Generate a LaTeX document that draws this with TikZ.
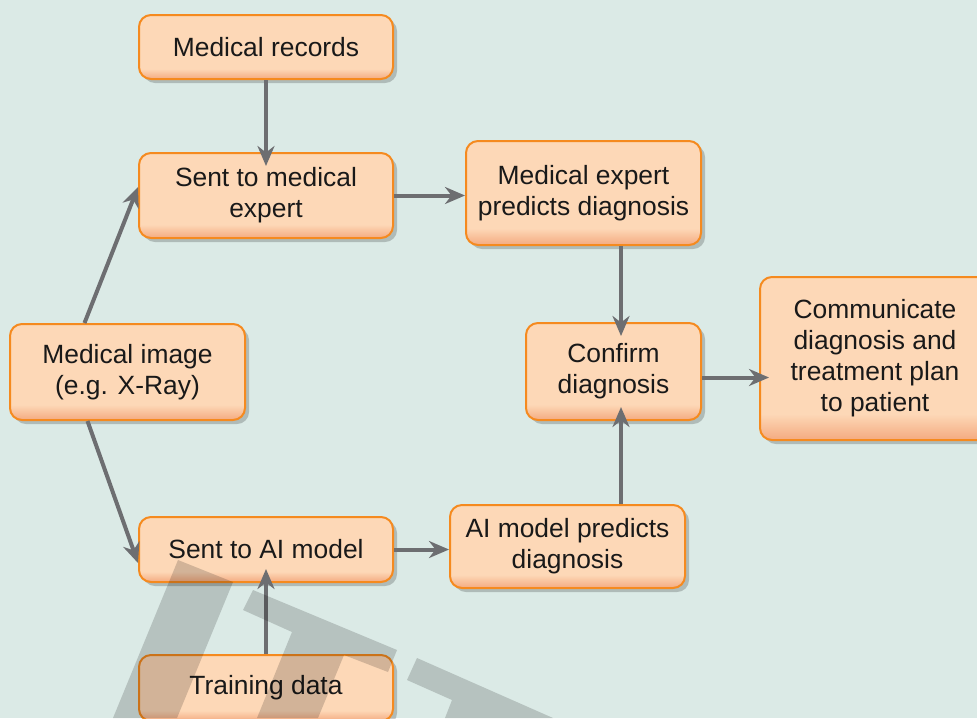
\documentclass[tikz,border=0pt]{standalone}
\usepackage{fontspec}
\setmainfont{Liberation Sans}
\usetikzlibrary{arrows.meta,shadows,calc}
\definecolor{bgcol}{HTML}{DBEAE6}
\definecolor{boxlight}{HTML}{FDD8B7}
\definecolor{boxdark}{HTML}{F4AA80}
\definecolor{boxline}{HTML}{F58A1F}
\definecolor{flowcol}{HTML}{6D6E71}
\pgfdeclareverticalshading{boxshade}{100bp}{color(0bp)=(boxdark); color(25bp)=(boxdark); color(33bp)=(boxlight); color(100bp)=(boxlight)}
\tikzset{
  stepbox/.style={draw=boxline, line width=1pt, rounded corners=6pt, shading=boxshade,
    align=center, inner sep=0pt, text=black!90, font=\fontsize{13.2}{15.5}\selectfont,
    drop shadow={shadow xshift=2pt, shadow yshift=-2pt, opacity=.2, fill=black}},
  flow/.style={draw=flowcol, line width=2pt, -{Stealth[length=10pt,width=8.5pt]}},
  into/.style={shorten >=-7pt},
}
\begin{document}
\begin{tikzpicture}[x=0.5pt,y=-0.5pt]
\fill[bgcol] (0,0) rectangle (977,718);
\useasboundingbox (0,0) rectangle (977,718);
\node (records) [stepbox, minimum width=127pt, minimum height=32pt] at (266,47) {Medical records};
\node (expert) [stepbox, minimum width=127pt, minimum height=42.5pt] at (266,195.5) {Sent to medical\\expert};
\node (predicts) [stepbox, minimum width=117.5pt, minimum height=52pt] at (583.5,193) {Medical expert\\predicts diagnosis};
\node (image) [stepbox, minimum width=117.5pt, minimum height=48pt] at (127.5,372) {Medical image\\(e.g. X-Ray)};
\node (confirm) [stepbox, minimum width=87.5pt, minimum height=48.5pt] at (613.5,371.5) {Confirm\\diagnosis};
\node (comm) [stepbox, minimum width=115pt, minimum height=81.5pt] at (875,358.5) {Communicate\\diagnosis and\\treatment plan\\to patient};
\node (sentai) [stepbox, minimum width=127pt, minimum height=32.5pt] at (266,549.5) {Sent to AI model};
\node (aipred) [stepbox, minimum width=117.5pt, minimum height=41.5pt] at (567.5,546.5) {AI model predicts\\diagnosis};
\node (training) [stepbox, minimum width=127pt, minimum height=33pt] at (266,688) {Training data};
\coordinate (confin) at ($(confirm.north)+(7.5,0)$);
\coordinate (confout) at ($(confirm.south)+(7.5,0)$);
\coordinate (confright) at ($(confirm.east)+(0,6)$);
\draw [flow, into] (records) -- (expert);
\draw [flow] ($(image.north)+(-43,0)$) -- ($(expert.west)+(0,-8.5)$);
\draw [flow] ($(image.south)+(-40,0)$) -- ($(sentai.west)+(0,13.5)$);
\draw [flow] (expert.east) -- (expert.east -| predicts.west);
\draw [flow, into] (confin |- predicts.south) -- (confin);
\draw [flow, into] (confout |- aipred.north) -- (confout);
\draw [flow, shorten >=-5pt] (confright) -- (confright -| comm.west);
\draw [flow] (sentai.east) -- (sentai.east -| aipred.west);
\draw [flow, into] (training) -- (sentai);
\fill [black, fill opacity=.17] (178,560) -- (233,582) -- (177,718) -- (113,718) -- cycle;
\fill [black, fill opacity=.17] (253,590) -- (397,650) -- (388,672) -- (344,655) -- (318,718) -- (257,718) -- (292,632) -- (243,610) -- cycle;
\fill [black, fill opacity=.17] (417,658) -- (553,718) -- (445,718) -- (452,700) -- (407,680) -- cycle;
\end{tikzpicture}
\end{document}
